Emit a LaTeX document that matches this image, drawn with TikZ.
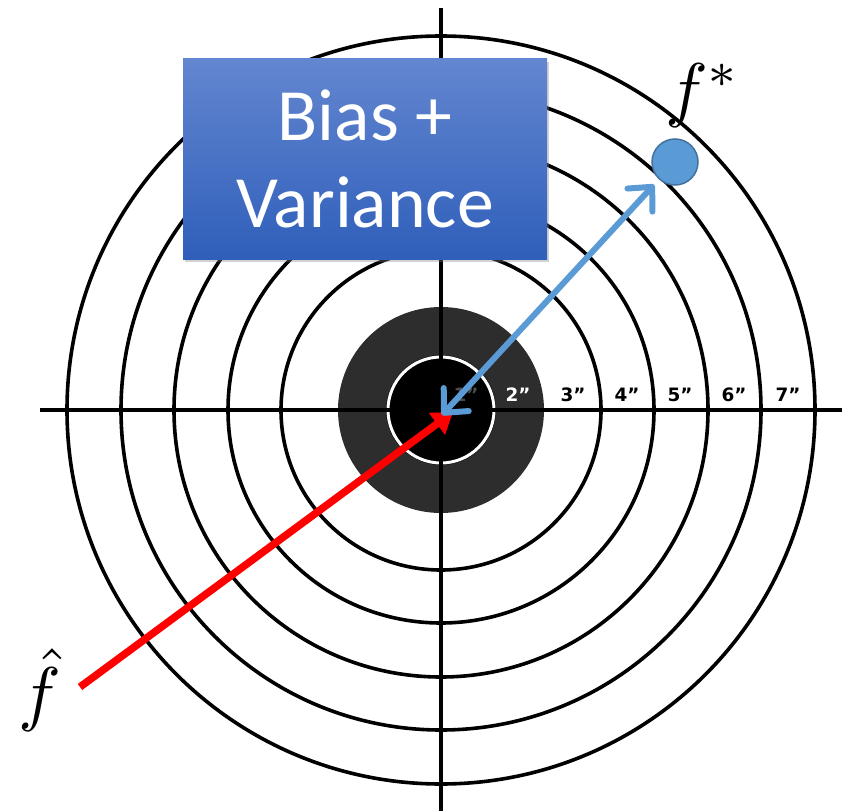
\documentclass[tikz,border=0pt]{standalone}
\usepackage{amsmath, amssymb}
\usepackage{graphicx}
\usepackage{fontspec}
\usepackage{xcolor}
\usepackage{tikz}
\usetikzlibrary{calc, arrows.meta, shadows, positioning}
\newfontfamily\boxfont{Carlito}
\newfontfamily\ringfont{DejaVu Sans}
\definecolor{boxtop}{RGB}{99,134,208}
\definecolor{boxbot}{RGB}{47,95,186}
\definecolor{ptblue}{RGB}{91,155,213}
\definecolor{ptedge}{RGB}{65,113,156}
\definecolor{ringgray}{RGB}{45,45,45}
\newcommand{\biglbl}[1]{\scalebox{7.2}{$#1$}}

\begin{document}
\begin{tikzpicture}[x=1bp, y=-1bp,
    ring/.style={line width=3.6bp},
    axisline/.style={line width=4bp},
    ringlbl/.style={font=\ringfont\bfseries\fontsize{18.5}{20}\selectfont, inner sep=0pt},
    biasbox/.style={rectangle, minimum width=364bp, minimum height=200bp,
        top color=boxtop, bottom color=boxbot, text=white, align=center,
        font=\boxfont\fontsize{74}{87}\selectfont,
        drop shadow={shadow xshift=2bp, shadow yshift=-3bp, opacity=0.35}},
    mathlbl/.style={inner sep=0pt},
    ptdot/.style={circle, fill=ptblue, draw=ptedge, line width=1.5bp, minimum size=46bp, inner sep=0pt},
    redarr/.style={red, line width=7.5bp, -{Triangle[length=20bp, width=26bp]}},
    bluearr/.style={ptblue, line width=6bp,
        {Straight Barb[length=18bp, width=34bp, round]}-{Straight Barb[length=18bp, width=34bp, round]},
        shorten <=7bp}]
    \useasboundingbox[fill=white] (0,0) rectangle (849,811);

    % 1. Bia ngắm
    \coordinate (O) at (441,410);
    \fill[ringgray] (O) circle[radius=103];
    \fill[black] (O) circle[radius=55];
    \draw[white, line width=3bp] (O) circle[radius=53];
    \foreach \r in {160,213,267,320,374}
        \draw[ring] (O) circle[radius=\r];

    % 2. Trục
    \draw[axisline] (40,410) -- (842,410);
    \draw[axisline] (441,8) -- (441,811);

    % 3. Nhãn vòng
    \node[ringlbl, text=black!70] (l1) at (466,395) {1”};
    \node[ringlbl, text=white] (l2) at (518,395) {2”};
    \foreach \n/\x in {3/573, 4/627, 5/680, 6/734, 7/788}
        \node[ringlbl] (l\n) at (\x,395) {\n”};

    % 4. Hộp chữ
    \node[biasbox] (box) at (365,159) {Bias +\\Variance};

    % 5. Điểm f* và mũi tên
    \node[ptdot] (fstar) at (675,162) {};
    \node[mathlbl] (fstarlbl) at (703,96) {\biglbl{f^*}};
    \node[mathlbl] (fhatlbl) at (40,690) {\biglbl{\hat{f}}};
    \coordinate (redtail) at (80,687);
    \coordinate (redtip) at (453,412);
    \coordinate (bluetip) at (442,415);
    \draw[redarr] (redtail) -- (redtip);
    \draw[bluearr] (fstar) -- (bluetip);
\end{tikzpicture}
\end{document}
